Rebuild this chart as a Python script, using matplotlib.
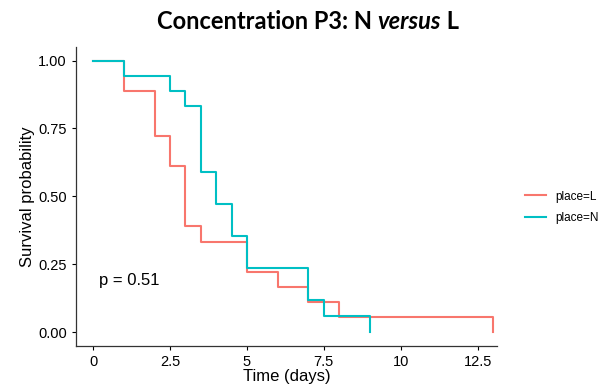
import matplotlib
matplotlib.use('Agg')
import matplotlib.pyplot as plt

# Kaplan-Meier steps
time_L = [0, 1, 2, 2.5, 3, 3.5, 5, 6, 7, 8, 13]
surv_L = [1.0, 0.889, 0.722, 0.611, 0.389, 0.333, 0.222, 0.167, 0.111, 0.056, 0.0]
time_N = [0, 1, 2.5, 3, 3.5, 4, 4.5, 5, 7, 7.5, 9]
surv_N = [1.0, 0.944, 0.889, 0.833, 0.590, 0.472, 0.354, 0.236, 0.118, 0.059, 0.0]
group_labels = ['place=L', 'place=N']
x_ticks = [0, 2.5, 5, 7.5, 10, 12.5]
x_tick_labels = ['0', '2.5', '5', '7.5', '10', '12.5']
y_ticks = [0, 0.25, 0.5, 0.75, 1.0]
p_text = 'p = 0.51'
title_parts = [('Concentration P3: N ', 'normal'), ('versus', 'italic'), (' L', 'normal')]

colors = ['#F8766D', '#00BFC4']
plt.rcParams['font.family'] = ['Liberation Sans', 'DejaVu Sans']

fig = plt.figure(figsize=(6.06, 3.91), dpi=100)
ax = fig.add_axes([0.1254, 0.1159, 0.8196 - 0.1254, 0.8798 - 0.1159])

l1, = ax.step(time_L, surv_L, where='post', color=colors[0], lw=1.5)
l2, = ax.step(time_N, surv_N, where='post', color=colors[1], lw=1.5)

ax.set_xlim(-0.56, 13.12)
ax.set_ylim(-0.05, 1.05)
ax.set_xticks(x_ticks)
ax.set_xticklabels(x_tick_labels)
ax.set_yticks(y_ticks)
ax.set_yticklabels(['%.2f' % v for v in y_ticks])
ax.tick_params(labelsize=10.5, colors='black', length=3, width=0.8)
for s in ['top', 'right']:
    ax.spines[s].set_visible(False)
for s in ['left', 'bottom']:
    ax.spines[s].set_color('#333333')
    ax.spines[s].set_linewidth(0.9)

ax.set_xlabel('Time (days)', fontsize=12, labelpad=0)
ax.set_ylabel('Survival probability', fontsize=12, labelpad=2)
ax.text(0.2, 0.19, p_text, fontsize=12, ha='left', va='center')

fig.legend([l1, l2], group_labels, loc='center left', bbox_to_anchor=(0.848, 0.47),
           frameon=False, fontsize=8.5, handlelength=1.8, handletextpad=0.8, labelspacing=0.8)

# title in pieces so "versus" can be bold italic
renderer = fig.canvas.get_renderer()
pieces = []
for txt, style in title_parts:
    t = fig.text(0, 0.945, txt, fontsize=17, fontweight='bold', style=style,
                 family=['Lato', 'DejaVu Sans'], va='center', ha='left')
    pieces.append(t)
widths = [p.get_window_extent(renderer).width for p in pieces]
total = sum(widths)
x0 = 0.508 * fig.bbox.width - total / 2
for p, w in zip(pieces, widths):
    p.set_x(x0 / fig.bbox.width)
    x0 += w

fig.savefig('out.png', dpi=100)
